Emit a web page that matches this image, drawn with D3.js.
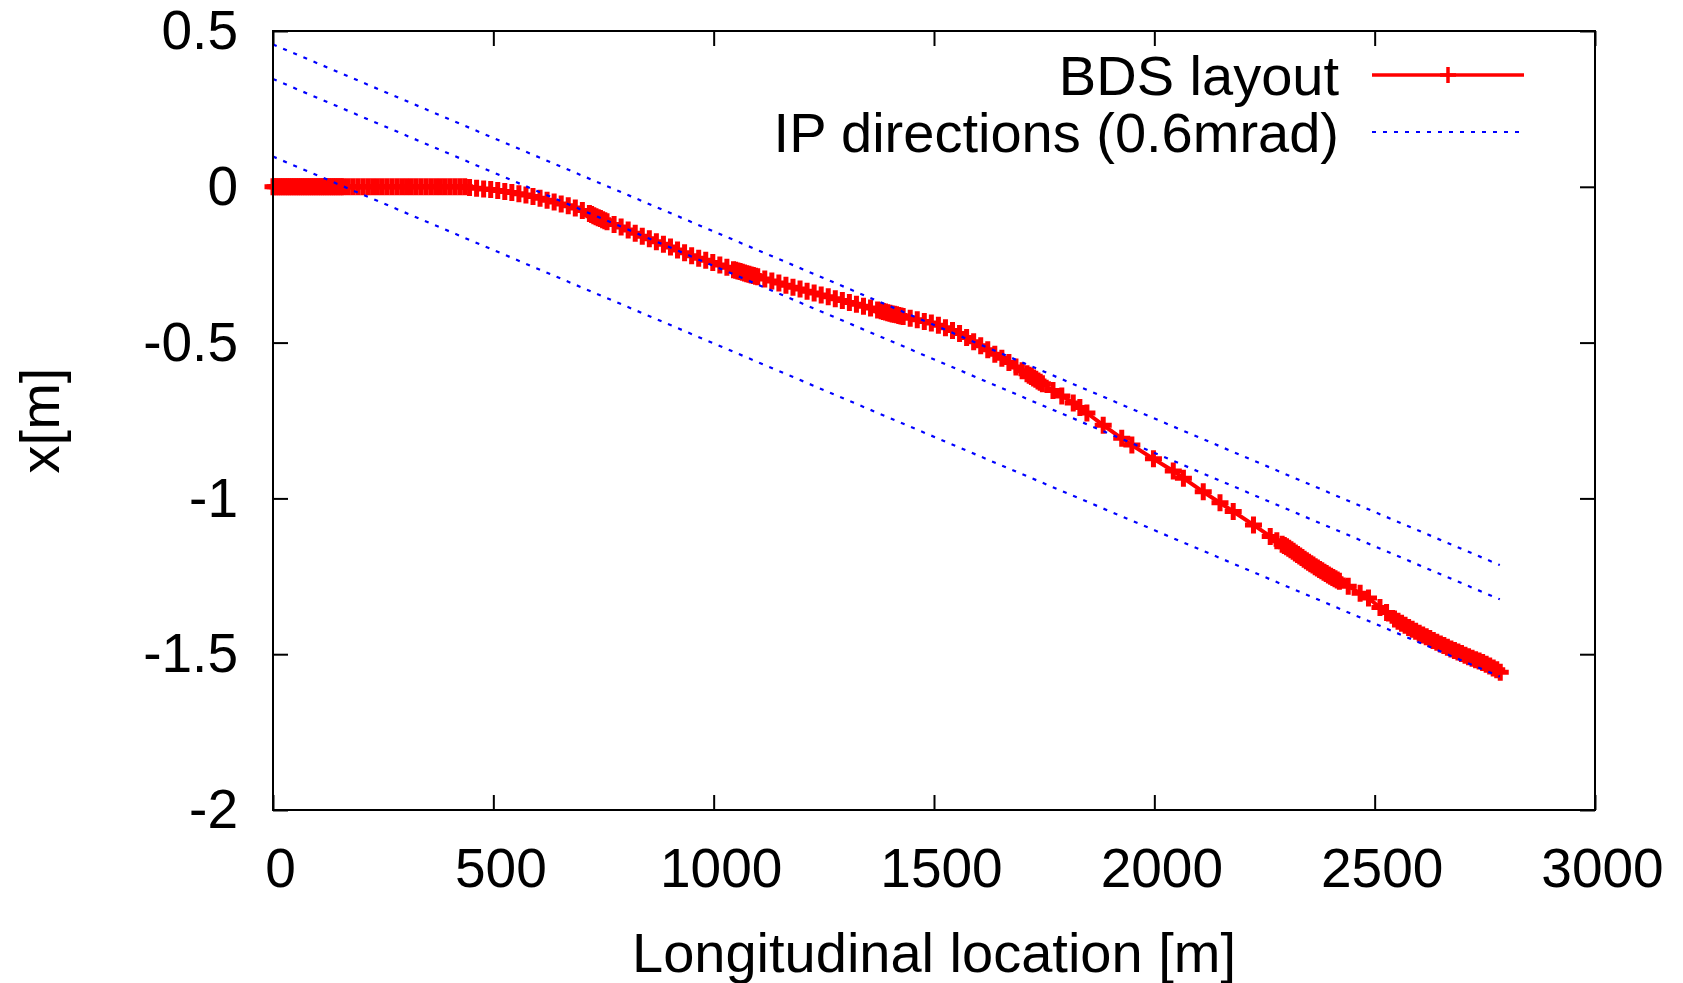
<!DOCTYPE html>
<html>
<head>
<meta charset="utf-8">
<script src="https://cdn.jsdelivr.net/npm/d3@7"></script>
<style>
  body { margin: 0; background: #fff; }
  text { font-family: 'Liberation Sans', Arial, sans-serif; fill: #000; }
</style>
</head>
<body>
<div id="chart"></div>
<script>
// BDS layout, [s (m), x (m)]
const bdsPoints = [
  [0,0],[5,0],[10,0],[15,0],[20,0],[25,0],[30,0],[35,0],[40,0],[45,0],[50,0],[55,0],[60,0],[65,0],[70,0],
  [75,0],[80,0],[85,0],[90,0],[95,0],[100,0],[105,0],[110,0],[115,0],[120,0],[125,0],[130,0],[135,0],
  [140,0],[145,0],[150,0],[155,0],[160,0],
  [171,0],[182,0],[193,0],[204,0],[215,0],[226,0],[237,0],[248,0],[259,0],[270,0],[281,0],[292,0],
  [303,0],[314,0],[325,0],[336,0],[347,0],[358,0],[369,0],[380,0],[391,0],[402,0],[413,0],[424,0],
  [435,0],[446,-0.002],
  [462,-0.005],[478,-0.007],[494,-0.009],[510,-0.012],[526,-0.015],[542,-0.018],[558,-0.022],[574,-0.026],
  [590,-0.031],[606,-0.037],[622,-0.043],[638,-0.049],[654,-0.055],[670,-0.061],[686,-0.068],[702,-0.076],
  [718,-0.086],[723,-0.089],[728,-0.093],[733,-0.096],[738,-0.099],[743,-0.102],[748,-0.106],[753,-0.109],
  [758,-0.112],[774,-0.121],[790,-0.129],[806,-0.139],[822,-0.149],[838,-0.159],[854,-0.167],[870,-0.176],
  [886,-0.184],[902,-0.193],[918,-0.203],[934,-0.212],[950,-0.221],[966,-0.229],[982,-0.236],[998,-0.243],
  [1014,-0.251],[1030,-0.258],[1045,-0.266],[1050,-0.268],[1055,-0.270],[1060,-0.272],[1065,-0.274],
  [1070,-0.277],[1075,-0.279],[1080,-0.281],[1085,-0.283],[1090,-0.285],[1095,-0.287],[1100,-0.289],
  [1116,-0.296],[1132,-0.302],[1148,-0.309],[1164,-0.316],[1180,-0.322],[1196,-0.328],[1212,-0.335],
  [1228,-0.341],[1244,-0.347],[1260,-0.353],[1276,-0.359],[1292,-0.365],[1308,-0.371],[1324,-0.377],
  [1340,-0.383],[1356,-0.389],[1372,-0.395],[1380,-0.398],[1385,-0.400],[1390,-0.402],[1395,-0.404],
  [1400,-0.406],[1405,-0.408],[1410,-0.409],[1415,-0.411],[1420,-0.413],[1425,-0.415],[1430,-0.416],
  [1446,-0.422],[1462,-0.427],[1478,-0.432],[1494,-0.437],[1510,-0.444],[1526,-0.452],[1542,-0.461],
  [1558,-0.471],[1574,-0.484],[1590,-0.497],[1606,-0.510],[1622,-0.523],[1638,-0.537],[1654,-0.550],
  [1670,-0.564],[1686,-0.578],[1700,-0.590],[1711,-0.600],[1716,-0.605],[1721,-0.609],[1726,-0.614],
  [1731,-0.618],[1736,-0.623],[1741,-0.627],[1746,-0.632],
  [1770,-0.654],[1790,-0.671],[1816,-0.694],[1831,-0.708],[1847,-0.726],[1884,-0.765],[1926,-0.807],
  [1949,-0.829],[1998,-0.873],[2043,-0.912],[2066,-0.935],[2111,-0.979],[2149,-1.014],[2179,-1.042],
  [2225,-1.085],[2263,-1.122],[2278,-1.136],
  [2290,-1.147],[2295,-1.151],[2300,-1.155],[2305,-1.160],[2310,-1.165],[2315,-1.170],[2320,-1.175],
  [2325,-1.180],[2330,-1.185],[2335,-1.190],[2340,-1.195],[2345,-1.200],[2350,-1.205],[2355,-1.210],
  [2360,-1.214],[2365,-1.219],[2370,-1.223],[2375,-1.228],[2380,-1.232],[2385,-1.237],[2390,-1.241],
  [2395,-1.246],[2400,-1.250],[2405,-1.254],[2410,-1.258],[2415,-1.262],[2420,-1.266],
  [2440,-1.282],[2467,-1.304],[2486,-1.320],[2512,-1.350],[2527,-1.366],
  [2545,-1.387],[2553,-1.394],[2561,-1.401],[2569,-1.407],[2577,-1.414],[2585,-1.420],[2593,-1.426],
  [2601,-1.433],[2609,-1.438],[2617,-1.444],[2625,-1.450],[2633,-1.456],[2641,-1.462],[2649,-1.467],
  [2657,-1.472],[2665,-1.478],[2673,-1.483],[2681,-1.488],[2689,-1.493],[2697,-1.498],[2705,-1.503],
  [2713,-1.508],[2721,-1.513],[2729,-1.518],[2737,-1.522],[2745,-1.527],[2753,-1.532],[2761,-1.538],
  [2769,-1.544],[2777,-1.550],[2785,-1.558]
];

// IP direction lines (0.6 mrad), start and end points
const ipS = [0, 2784];
const ipUpper = [0.457, -1.214];
const ipMiddle = [0.346, -1.324];
const ipLower = [0.097, -1.572];

const xTicks = [0, 500, 1000, 1500, 2000, 2500, 3000];
const yTicks = [0.5, 0, -0.5, -1, -1.5, -2];

const legendLabels = ['BDS layout', 'IP directions (0.6mrad)'];

const chartWidth = 1683;
const chartHeight = 983;
const plotLeft = 273, plotRight = 1595, plotTop = 31, plotBottom = 810;
const tickLen = 15;

const svg = d3.select('#chart')
  .append('svg')
  .attr('width', chartWidth)
  .attr('height', chartHeight);

const x = d3.scaleLinear().domain([0, 3000]).range([plotLeft, plotRight]);
const y = d3.scaleLinear().domain([-2, 0.5]).range([plotBottom, plotTop]);

svg.append('clipPath').attr('id', 'plot-clip')
  .append('rect')
  .attr('x', plotLeft - 12).attr('y', plotTop)
  .attr('width', plotRight - plotLeft + 12).attr('height', plotBottom - plotTop);

// axes with inward ticks
const axisB = svg.append('g')
  .attr('transform', `translate(0,${plotBottom})`)
  .call(d3.axisBottom(x).tickValues(xTicks).tickSize(-tickLen).tickPadding(38).tickFormat(d => String(d)));
axisB.selectAll('text').attr('dx', 7);

svg.append('g')
  .attr('transform', `translate(0,${plotTop})`)
  .call(d3.axisTop(x).tickValues(xTicks).tickSize(-tickLen).tickFormat(''));

svg.append('g')
  .attr('transform', `translate(${plotLeft},0)`)
  .call(d3.axisLeft(y).tickValues(yTicks).tickSize(-tickLen).tickPadding(35).tickFormat(d => String(d)));

svg.append('g')
  .attr('transform', `translate(${plotRight},0)`)
  .call(d3.axisRight(y).tickValues(yTicks).tickSize(-tickLen).tickFormat(''));

svg.selectAll('.domain').remove();
svg.selectAll('.tick line').attr('stroke', '#000').attr('stroke-width', 2);
svg.selectAll('.tick text')
  .style('font-size', '55px')
  .style('font-family', "'Liberation Sans', Arial, sans-serif")
  .attr('fill', '#000');

// BDS layout line + plus markers
const plot = svg.append('g').attr('clip-path', 'url(#plot-clip)');

const line = d3.line().x(d => x(d[0])).y(d => y(d[1]));

plot.append('path')
  .datum(bdsPoints)
  .attr('d', line)
  .attr('fill', 'none')
  .attr('stroke', '#ff0000')
  .attr('stroke-width', 4);

const plus = 'M-8.5,0H8.5M0,-8.5V8.5';

plot.selectAll('.bds-marker')
  .data(bdsPoints)
  .join('path')
  .attr('class', 'bds-marker')
  .attr('d', plus)
  .attr('transform', d => `translate(${x(d[0])},${y(d[1])})`)
  .attr('stroke', '#ff0000')
  .attr('stroke-width', 5)
  .attr('fill', 'none');

// IP direction lines
[ipUpper, ipMiddle, ipLower].forEach(vals => {
  plot.append('line')
    .attr('x1', x(ipS[0]))
    .attr('y1', y(vals[0]))
    .attr('x2', x(ipS[1]))
    .attr('y2', y(vals[1]))
    .attr('stroke', '#0000ff')
    .attr('stroke-width', 2.2)
    .attr('stroke-dasharray', '4,7');
});

// frame
svg.append('rect')
  .attr('x', plotLeft).attr('y', plotTop)
  .attr('width', plotRight - plotLeft).attr('height', plotBottom - plotTop)
  .attr('fill', 'none')
  .attr('stroke', '#000')
  .attr('stroke-width', 2);

// legend
const legend = svg.append('g');
legend.selectAll('text')
  .data(legendLabels)
  .join('text')
  .attr('x', 1339)
  .attr('y', (d, i) => 95 + 57 * i)
  .attr('text-anchor', 'end')
  .style('font-size', '56px')
  .text(d => d);

legend.append('line')
  .attr('x1', 1372).attr('x2', 1524)
  .attr('y1', 75).attr('y2', 75)
  .attr('stroke', '#ff0000')
  .attr('stroke-width', 3.5);

legend.append('path')
  .attr('d', 'M-8,0H8M0,-8V8')
  .attr('transform', 'translate(1448,75)')
  .attr('stroke', '#ff0000')
  .attr('stroke-width', 3.5);

legend.append('line')
  .attr('x1', 1372).attr('x2', 1524)
  .attr('y1', 132).attr('y2', 132)
  .attr('stroke', '#0000ff')
  .attr('stroke-width', 2.2)
  .attr('stroke-dasharray', '4,7');

// axis titles
svg.append('text')
  .attr('x', (plotLeft + plotRight) / 2)
  .attr('y', 972)
  .attr('text-anchor', 'middle')
  .style('font-size', '56px')
  .text('Longitudinal location [m]');

svg.append('text')
  .attr('transform', `translate(59,${(plotTop + plotBottom) / 2}) rotate(-90)`)
  .attr('text-anchor', 'middle')
  .style('font-size', '56px')
  .text('x[m]');
</script>
</body>
</html>
